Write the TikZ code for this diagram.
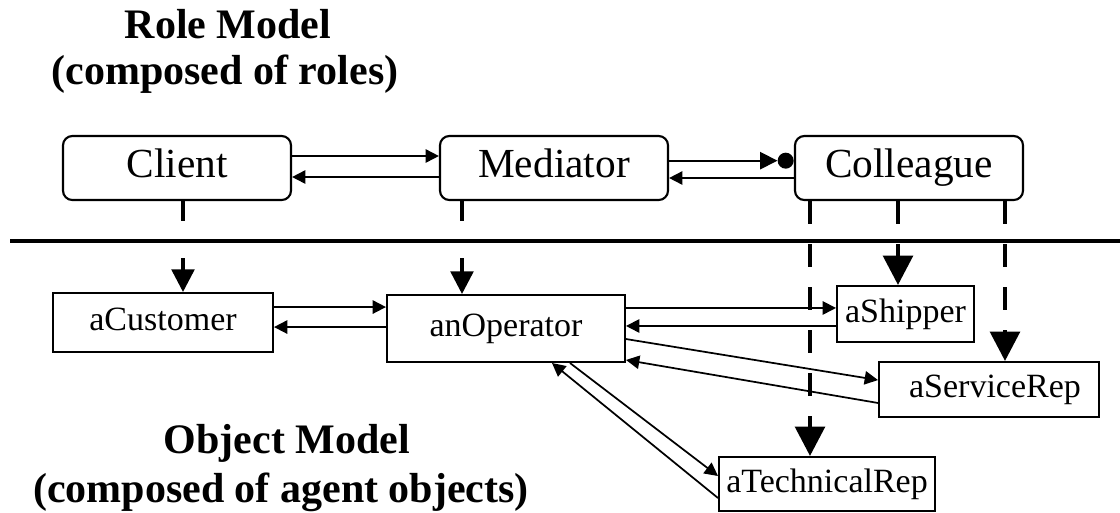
\documentclass[tikz,border=0pt]{standalone}
\usepackage{fontspec}
\setmainfont{Liberation Serif}
\usetikzlibrary{arrows.meta}
\tikzset{role/.style={draw,line width=1.6pt,rounded corners=7pt,minimum width=171pt,minimum height=48pt,inner sep=0pt,text height=21pt,text depth=6.5pt,font=\fontsize{31}{36}\selectfont},
         agent/.style={draw,line width=1.5pt,inner sep=0pt,text height=17.5pt,text depth=5.5pt,font=\fontsize{25.5}{30}\selectfont},
         msg/.style={line width=1.3pt,-{Triangle[length=10pt,width=10pt]}},
         realize/.style={line width=2.6pt,dash pattern=on 15pt off 27.75pt,-{Triangle[length=17pt,width=17pt]}},
         realize thick/.style={line width=3.5pt,dash pattern=on 17.25pt off 15pt,-{Triangle[length=22pt,width=22pt]}},
         title/.style={anchor=base,inner sep=0pt,font=\fontsize{31.5}{36}\selectfont\bfseries},
         hook/.style={circle,fill,inner sep=0pt,minimum size=12pt},
        }
\begin{document}
\begin{tikzpicture}[x=0.75pt,y=-0.75pt]
        \useasboundingbox (0,0) rectangle (1120,512);
        \node[title](roleT)at(228,38){Role Model};
        \node[title](roleS)at(225,84){(composed of roles)};
        \node[title](objT)at(287,453){Object Model};
        \node[title](objS)at(281,502){(composed of agent objects)};

        \node[role](client)at(177,168){Client};
        \node[role](mediator)at(554,168){Mediator};
        \node[role](colleague)at(909,168){Colleague};
        \node[hook,anchor=east](hook)at([yshift=5.5pt]colleague.west){};

        \draw[msg]([yshift=9pt]client.east)--([yshift=9pt]client.east -| mediator.west);
        \draw[msg]([yshift=-6.75pt]mediator.west)--([yshift=-6.75pt]mediator.west -| client.east);
        \draw[line width=1.3pt,-{Triangle[length=13pt,width=13pt]}]([yshift=5.5pt]mediator.east)--(hook.west);
        \draw[msg]([yshift=-7.5pt]colleague.west)--([yshift=-7.5pt]colleague.west -| mediator.east);

        \coordinate(sepL)at(10,241);
        \coordinate(sepR)at(1120,241);
        \draw[line width=2.5pt](sepL)--(sepR);

        \node[agent,minimum width=165pt,minimum height=44.25pt](customer)at(163,322.5){aCustomer};
        \node[agent,minimum width=178.5pt,minimum height=50.25pt](operator)at(506,328.5){anOperator};
        \node[agent,minimum width=102.75pt,minimum height=42pt](shipper)at(905.5,314){aShipper};
        \node[agent,minimum width=165pt,minimum height=41.25pt](service)at(989,389.5){\hspace{9pt}aServiceRep};
        \node[agent,minimum width=162pt,minimum height=40.5pt](technical)at(827,484){aTechnicalRep};

        \draw[msg]([yshift=11.6pt]customer.east)--([yshift=11.6pt]customer.east -| operator.west);
        \draw[msg]([yshift=-3.4pt]customer.east -| operator.west)--([yshift=-3.4pt]customer.east);
        \draw[msg]([yshift=15.4pt]operator.east)--([yshift=15.4pt]operator.east -| shipper.west);
        \draw[msg]([yshift=1.9pt]operator.east -| shipper.west)--([yshift=1.9pt]operator.east);
        \draw[msg]([yshift=-7.9pt]operator.east)--([yshift=7.1pt]service.west);
        \draw[msg]([yshift=-10.1pt]service.west)--([yshift=-23.6pt]operator.east);
        \draw[msg]([xshift=48pt]operator.south)--([yshift=6pt]technical.west);
        \draw[msg]([yshift=-10.5pt]technical.west)--([xshift=34.5pt]operator.south);

        \draw[realize]([xshift=4.5pt]client.south)--([xshift=4.5pt]client.south |- customer.north);
        \draw[realize]([xshift=-69pt]mediator.south)--([xshift=-69pt]mediator.south |- operator.north);
        \draw[realize thick]([xshift=-74.25pt]colleague.south)--([xshift=-74.25pt]colleague.south |- technical.north);
        \draw[realize thick]([xshift=-8.25pt]colleague.south)--([xshift=-8.25pt]colleague.south |- shipper.north);
        \draw[realize thick]([xshift=72pt]colleague.south)--([xshift=72pt]colleague.south |- service.north);
    \end{tikzpicture}
\end{document}
